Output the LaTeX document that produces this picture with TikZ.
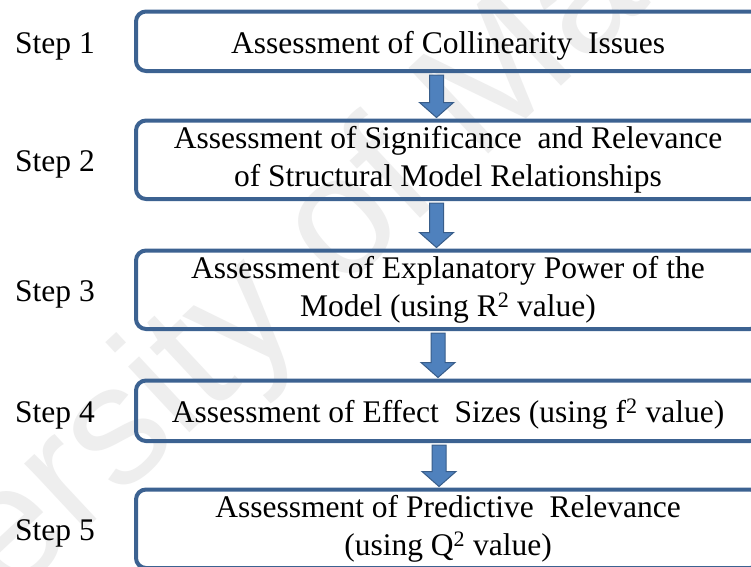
\documentclass[tikz,border=0pt]{standalone}
\usepackage{fontspec}
\setmainfont{Liberation Serif}
\newfontfamily\wmfont{Liberation Sans}
\usetikzlibrary{calc}

\definecolor{boxline}{RGB}{60,98,145}
\definecolor{arrowedge}{RGB}{56,93,138}
\definecolor{arrowfillc}{RGB}{79,129,189}
\definecolor{wmgray}{RGB}{238,238,238}

\tikzset{
  x=1pt, y=-1pt,
  txt/.style={font=\fontsize{31.5}{38}\selectfont},
  stepbox/.style={txt, draw=boxline, line width=4pt, rounded corners=10pt,
    minimum width=624pt, inner sep=0pt, align=center},
  oneline/.style={text height=30pt, text depth=6pt},
  steplabel/.style={txt, anchor=west, inner sep=0pt, text height=30pt, text depth=6pt},
  flow/.style={fill=arrowfillc, draw=arrowedge, line width=1pt, line join=miter},
  watermark/.style={text=wmgray, inner sep=0pt, anchor=base west, rotate=43,
    font=\wmfont\fontsize{170}{170}\selectfont}
}

% block arrow: from node #1 down to node #2, shifted by #3 from the box centre
\newcommand{\flowarrow}[3]{%
  \path[flow]
    ($(#1.south)+(#3-7,2)$) -- ($(#1.south)+(#3+7,2)$)
    -- ($(#2.north)+(#3+7,-16)$) -- ($(#2.north)+(#3+17,-16)$)
    -- ($(#2.north)+(#3,-1)$)
    -- ($(#2.north)+(#3-17,-16)$) -- ($(#2.north)+(#3-7,-16)$) -- cycle;
}

\begin{document}
\begin{tikzpicture}
\useasboundingbox (0,0) rectangle (751,566);
\clip (0,0) rectangle (751,566);
\fill[white] (0,0) rectangle (751,566);

% faint background watermark
\node[watermark] (wm) at (-240,834) {University of Malaya};

% process boxes
\node[stepbox, oneline, minimum height=59.5pt] (b1) at (448,41.25)
  {Assessment of Collinearity~ Issues};
\node[stepbox, minimum height=78.5pt] (b2) at (448,159.75)
  {Assessment of Significance~ and Relevance\\of Structural Model Relationships};
\node[stepbox, minimum height=78.5pt] (b3) at (448,289.75)
  {Assessment of Explanatory Power of the\\Model (using R\textsuperscript{2} value)};
\node[stepbox, oneline, minimum height=60.5pt] (b4) at (448,410.75)
  {Assessment of Effect~ Sizes (using f\textsuperscript{2} value)};
\node[stepbox, minimum height=78.5pt] (b5) at (448,528.75)
  {Assessment of Predictive~ Relevance\\(using Q\textsuperscript{2} value)};

% step labels
\node[steplabel] (s1) at (15,41.25) {Step 1};
\node[steplabel] (s2) at (15,159.75) {Step 2};
\node[steplabel] (s3) at (15,289.75) {Step 3};
\node[steplabel] (s4) at (15,410.75) {Step 4};
\node[steplabel] (s5) at (15,528.75) {Step 5};

% connecting arrows
\flowarrow{b1}{b2}{-11.5}
\flowarrow{b2}{b3}{-11.5}
\flowarrow{b3}{b4}{-10}
\flowarrow{b4}{b5}{-9}
\end{tikzpicture}
\end{document}
